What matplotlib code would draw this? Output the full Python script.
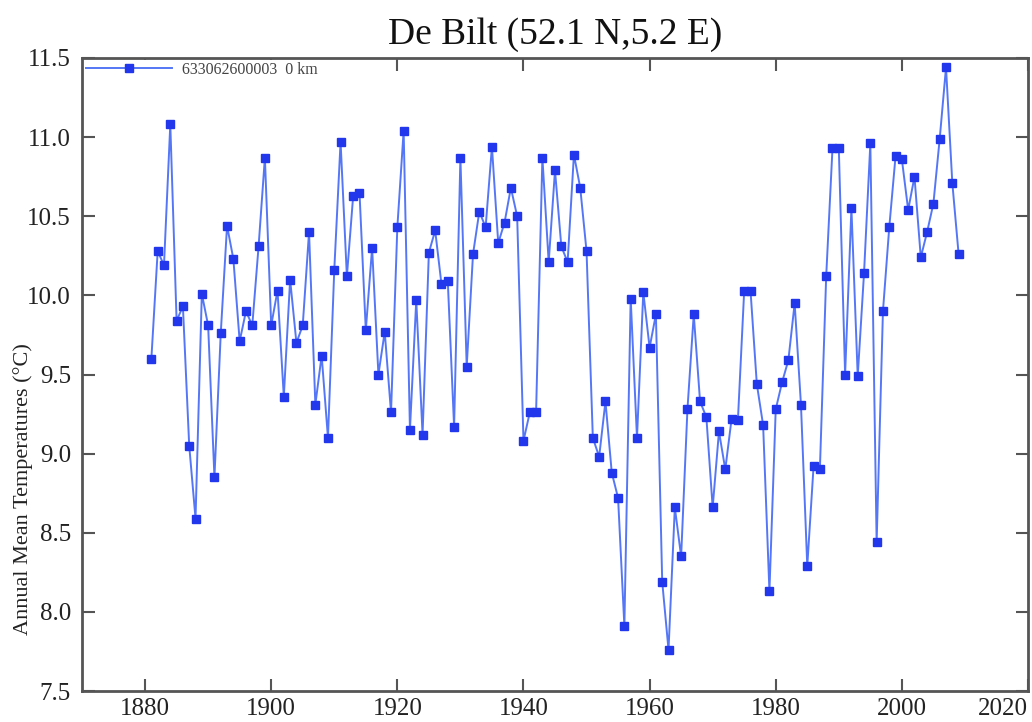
import matplotlib
matplotlib.use('Agg')
import matplotlib.pyplot as plt
import numpy as np

station = '633062600003  0 km'
title = 'De Bilt (52.1 N,5.2 E)'
ylabel = 'Annual Mean Temperatures (\u00b0C)'

years = np.arange(1881, 2010)
temps = [9.60, 10.28, 10.19, 11.08, 9.84, 9.93, 9.05, 8.59, 10.01, 9.81,
         8.85, 9.76, 10.44, 10.23, 9.71, 9.90, 9.81, 10.31, 10.87, 9.81,
         10.03, 9.36, 10.10, 9.70, 9.81, 10.40, 9.31, 9.62, 9.10, 10.16,
         10.97, 10.12, 10.63, 10.65, 9.78, 10.30, 9.50, 9.77, 9.26, 10.43,
         11.04, 9.15, 9.97, 9.12, 10.27, 10.41, 10.07, 10.09, 9.17, 10.87,
         9.55, 10.26, 10.53, 10.43, 10.94, 10.33, 10.46, 10.68, 10.50, 9.08,
         9.26, 9.26, 10.87, 10.21, 10.79, 10.31, 10.21, 10.89, 10.68, 10.28,
         9.10, 8.98, 9.33, 8.88, 8.72, 7.91, 9.98, 9.10, 10.02, 9.67,
         9.88, 8.19, 7.76, 8.66, 8.35, 9.28, 9.88, 9.33, 9.23, 8.66,
         9.14, 8.90, 9.22, 9.21, 10.03, 10.03, 9.44, 9.18, 8.13, 9.28,
         9.45, 9.59, 9.95, 9.31, 8.29, 8.92, 8.90, 10.12, 10.93, 10.93,
         9.50, 10.55, 9.49, 10.14, 10.96, 8.44, 9.90, 10.43, 10.88, 10.86,
         10.54, 10.75, 10.24, 10.40, 10.58, 10.99, 11.44, 10.71, 10.26]

xticks = np.arange(1880, 2021, 20)
yticks = np.arange(7.5, 11.51, 0.5)

plt.rcParams['font.family'] = ['Liberation Serif', 'DejaVu Serif']

fig = plt.figure(figsize=(10.32, 7.22), dpi=100)
ax = fig.add_axes([82 / 1032, 1 - 691 / 722, (1028 - 82) / 1032, (691 - 58) / 722])

ax.plot(years, temps, '-', color='#5577f5', lw=1.4, label=station,
        marker='s', markersize=6, markerfacecolor='#2236ec',
        markeredgecolor='#2236ec')

ax.set_xlim(1870, 2020)
ax.set_ylim(7.5, 11.5)
ax.set_xticks(xticks)
ax.set_yticks(yticks)
ax.set_yticklabels(['%.1f' % v for v in yticks])
ax.tick_params(direction='in', length=9, width=1.5, color='#555555',
               top=True, right=True, labelsize=18, labelcolor='#222222')
ax.tick_params(axis='x', pad=5)
ax.tick_params(axis='y', pad=8)
for s in ax.spines.values():
    s.set_linewidth(2)
    s.set_color('#555555')

lbls = ax.get_xticklabels()
lbls[-1].set_horizontalalignment('right')

ax.set_title(title, fontsize=27, pad=10, color='#111111')
fig.text(0.022, 0.322, ylabel, rotation=90, fontsize=16, ha='center', va='center',
         color='#222222')

leg = ax.legend(loc='upper left', frameon=True, facecolor='white', edgecolor='none',
                framealpha=1, fancybox=False, fontsize=11.5, handlelength=5.4,
                handletextpad=0.6, borderaxespad=0.15, borderpad=0.1)
leg.set_zorder(5)
for t in leg.get_texts():
    t.set_color('#444444')

fig.savefig('out.png', dpi=100, facecolor='white')
